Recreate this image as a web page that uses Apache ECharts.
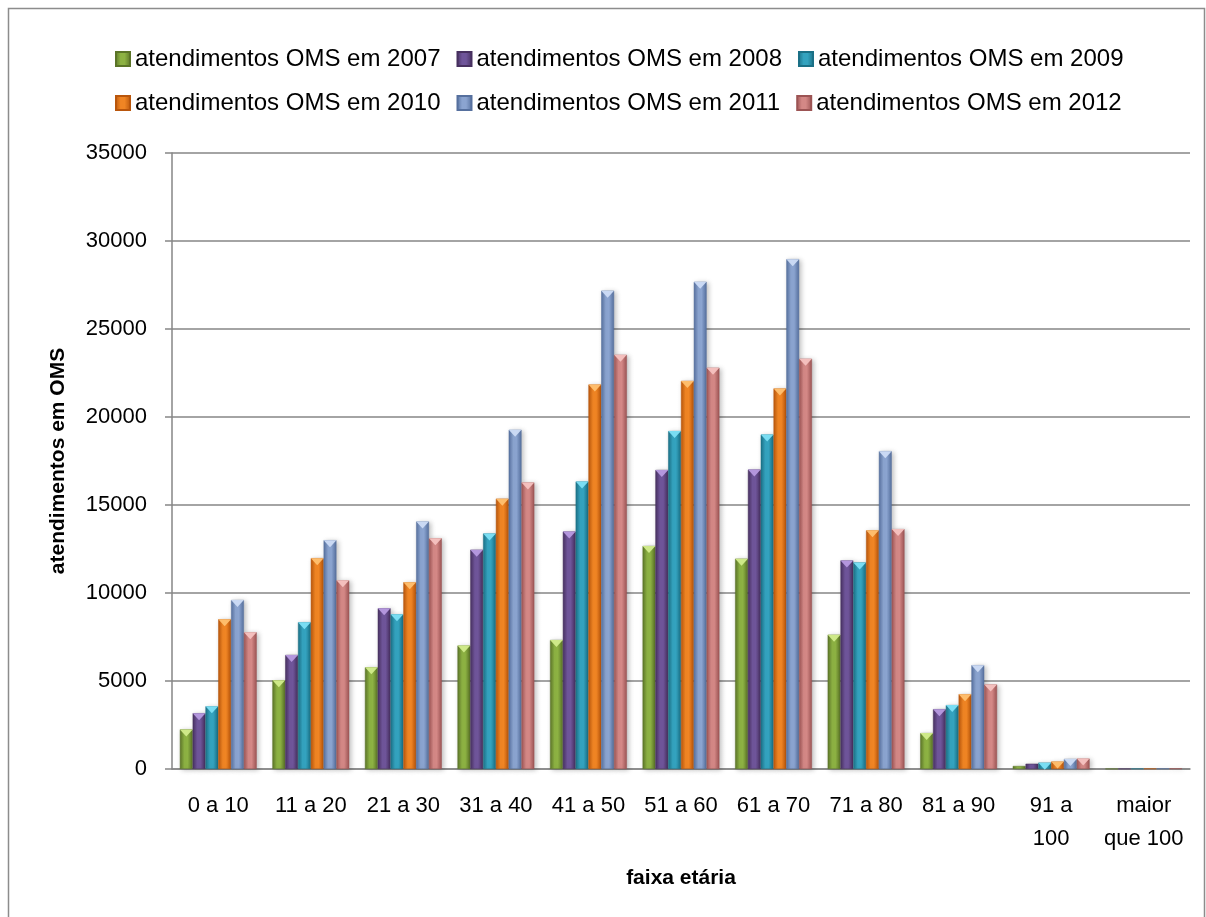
<!DOCTYPE html>
<html>
<head>
<meta charset="utf-8">
<script src="https://cdn.jsdelivr.net/npm/echarts@6/dist/echarts.min.js"></script>
<style>
html,body{margin:0;padding:0;background:#fff;}
#c{width:1206px;height:917px;}
</style>
</head>
<body>
<div id="c"></div>
<script>
var categories = ['0 a 10','11 a 20','21 a 30','31 a 40','41 a 50','51 a 60','61 a 70','71 a 80','81 a 90','91 a\n100','maior\nque 100'];
var seriesNames = ['atendimentos OMS em 2007','atendimentos OMS em 2008','atendimentos OMS em 2009','atendimentos OMS em 2010','atendimentos OMS em 2011','atendimentos OMS em 2012'];
var v2007 = [2250, 5040, 5780, 7010, 7330, 12670, 11950, 7630, 2040, 170, 10];
var v2008 = [3170, 6480, 9130, 12460, 13490, 16990, 17010, 11850, 3400, 300, 15];
var v2009 = [3560, 8340, 8790, 13380, 16330, 19200, 19000, 11740, 3630, 360, 20];
var v2010 = [8510, 11980, 10610, 15360, 21840, 22050, 21620, 13560, 4250, 420, 25];
var v2011 = [9600, 13000, 14060, 19270, 27180, 27680, 28970, 18060, 5900, 570, 30];
var v2012 = [7770, 10720, 13110, 16280, 23530, 22800, 23310, 13630, 4800, 590, 35];
var yTicks = [0, 5000, 10000, 15000, 20000, 25000, 30000, 35000];

var allValues = [v2007, v2008, v2009, v2010, v2011, v2012];
var palette = [
  {dark:'#5b7428', mid:'#8db243', cap:'#d2ec8c'},
  {dark:'#47305f', mid:'#6f559a', cap:'#b79ae0'},
  {dark:'#1b7086', mid:'#34a3bf', cap:'#7de0f5'},
  {dark:'#b9560c', mid:'#f08524', cap:'#ffc070'},
  {dark:'#56709e', mid:'#8ba4d0', cap:'#cddcf5'},
  {dark:'#9c5454', mid:'#d48886', cap:'#f6c2c0'}
];
function grad(p){
  return new echarts.graphic.LinearGradient(0,0,1,0,[
    {offset:0, color:p.dark},
    {offset:0.35, color:p.mid},
    {offset:0.6, color:p.mid},
    {offset:1, color:p.dark}
  ]);
}
var series = [];
allValues.forEach(function(vals, i){
  series.push({
    name: seriesNames[i],
    type: 'bar',
    data: vals,
    barGap: '0%',
    barCategoryGap: '17%',
    itemStyle: {
      color: grad(palette[i]),
      borderColor: palette[i].dark,
      borderWidth: 0.5,
      shadowBlur: 5,
      shadowColor: 'rgba(0,0,0,0.25)',
      shadowOffsetX: 2,
      shadowOffsetY: 1
    },
    z: 2
  });
});
allValues.forEach(function(vals, i){
  series.push({
    name: seriesNames[i] + ' cap',
    type: 'pictorialBar',
    data: vals.map(function(v){ return v > 300 ? v : '-'; }),
    barGap: '0%',
    barCategoryGap: '17%',
    symbol: 'triangle',
    symbolRotate: 180,
    symbolSize: ['100%', 7],
    symbolPosition: 'end',
    itemStyle: {color: palette[i].cap, opacity: 0.95},
    silent: true,
    z: 3
  });
});

var chart = echarts.init(document.getElementById('c'), null, {renderer:'canvas'});
var legendText = {fontFamily:'Liberation Sans', fontSize:24, color:'#000'};
chart.setOption({
  animation: false,
  backgroundColor: '#fff',
  graphic: [{
    type:'rect', shape:{x:8.5, y:8.5, width:1196, height:930},
    style:{fill:'none', stroke:'#8c8c8c', lineWidth:1.5}, silent:true
  }],
  legend: [{
    data: seriesNames.slice(0,3),
    left: 110, top: 42,
    itemWidth: 14, itemHeight: 14, itemGap: 16,
    icon: 'rect',
    textStyle: legendText
  },{
    data: seriesNames.slice(3,6),
    left: 110, top: 86,
    itemWidth: 14, itemHeight: 14, itemGap: 16,
    icon: 'rect',
    textStyle: legendText
  }],
  grid: {left: 172, right: 16, top: 153, bottom: 148},
  xAxis: {
    type: 'category',
    data: categories,
    name: 'faixa etária',
    nameLocation: 'middle',
    nameGap: 99,
    nameTextStyle: {fontFamily:'Liberation Sans', fontSize:21, fontWeight:'bold', color:'#000'},
    axisLine: {lineStyle:{color:'#868686', width:1.5}},
    axisTick: {show:false},
    axisLabel: {fontFamily:'Liberation Sans', fontSize:22, color:'#000', margin:20, lineHeight:33, interval:0}
  },
  yAxis: {
    type: 'value',
    min: 0, max: 35000, interval: 5000,
    name: 'atendimentos em OMS',
    nameLocation: 'middle',
    nameGap: 103,
    nameRotate: 90,
    nameTextStyle: {fontFamily:'Liberation Sans', fontSize:21, fontWeight:'bold', color:'#000'},
    axisLine: {show:true, lineStyle:{color:'#868686', width:1.5}},
    axisTick: {show:true, length:7, lineStyle:{color:'#868686', width:1.5}},
    splitLine: {lineStyle:{color:'#868686', width:1.5}},
    axisLabel: {fontFamily:'Liberation Sans', fontSize:22, color:'#000', margin:25,
      formatter: function(v){ return yTicks.indexOf(v) >= 0 ? String(v) : ''; }}
  },
  series: series
});
</script>
</body>
</html>
